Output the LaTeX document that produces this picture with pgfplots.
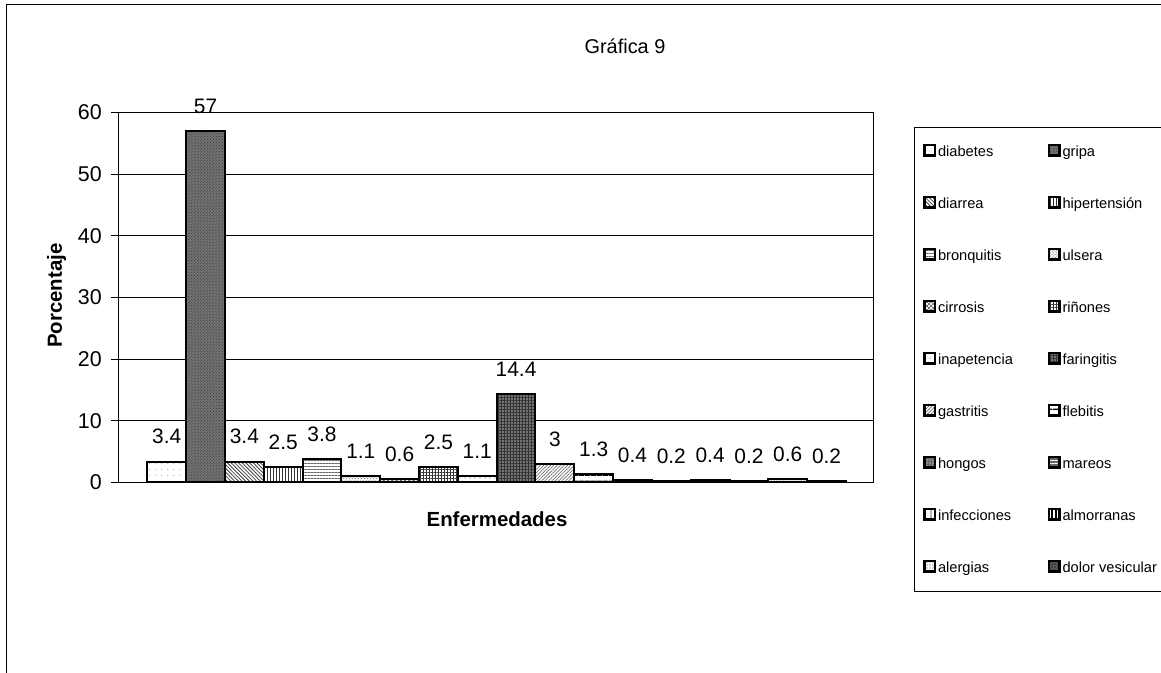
\documentclass[border=0pt]{standalone}
\usepackage{fontspec}
\setmainfont{Liberation Sans}
\usepackage{pgfplots}
\pgfplotsset{compat=1.18}
\usetikzlibrary{patterns,patterns.meta}
\pgfplotsset{/pgf/number format/assume math mode=true}
\begin{document}
\begin{tikzpicture}[x=1bp,y=1bp]
\useasboundingbox (0,0) rectangle (1161,673);
\draw[line width=1bp] (6,-10) -- (6,668) -- (1170,668);
\node[font=\fontsize{20}{24}\selectfont, anchor=base] at (625,619.4) {Gráfica 9};
\begin{axis}[
  at={(118bp,190.5bp)}, anchor=south west,
  scale only axis, width=755bp, height=370bp,
  ymin=0, ymax=60, ytick={0,10,...,60},
  xmin=-0.255, xmax=19.196,
  xtick=\empty,
  ymajorgrids, grid style={black, line width=0.8bp},
  axis line style={black, line width=0.8bp},
  tick style={black, line width=0.8bp},
  tick align=outside, major tick length=7bp,
  ytick pos=left,
  tick label style={font=\fontsize{21.5}{25}\selectfont},
  yticklabel style={inner xsep=0pt, xshift=-9bp},
  ybar, bar width=1, bar shift=0pt,
  nodes near coords,
  every node near coord/.append style={font=\fontsize{21}{25}\selectfont, inner sep=0pt, yshift=16.5bp, anchor=south},
  ylabel={Porcentaje},
  ylabel style={font=\bfseries\fontsize{20.5}{24}\selectfont, at={(axis description cs:-0.0812,0.505)}, anchor=center},
  xlabel={Enfermedades},
  xlabel style={font=\bfseries\fontsize{20.5}{24}\selectfont, at={(axis description cs:0.502,-0.1195)}, anchor=base},
  legend columns=2,
  legend cell align=left,
  legend style={at={(axis description cs:1.0543,0.9608)}, anchor=north west, draw=black, line width=0.8bp,
    inner xsep=9bp, inner ysep=16.5bp, font=\fontsize{14.7}{17}\selectfont, row sep=36.6bp,
    nodes={inner sep=0pt, text height=11bp, text depth=3bp},
    /tikz/every even column/.append style={column sep=35bp},
    /tikz/every odd column/.append style={column sep=2bp}},
  every axis plot/.append style={draw=black, line width=2bp,
    legend image code/.code={\draw[##1, line width=2.4bp] (0.6bp,-3.2bp) rectangle (10.8bp,7.2bp);}},
]
% 1 diabetes
\addplot[fill=white, postaction={pattern={Dots[distance=6bp,radius=0.5bp]}, pattern color=gray}] coordinates {(1,3.4)};
\addlegendentry{diabetes}
% 2 gripa
\addplot[fill=black!55, postaction={pattern=crosshatch dots, pattern color=black!80}] coordinates {(2,57)};
\addlegendentry{gripa}
% 3 diarrea
\addplot[fill=white, postaction={pattern={Lines[angle=-45,distance=2.6bp,line width=0.8bp]}, pattern color=black!75}] coordinates {(3,3.4)};
\addlegendentry{diarrea}
% 4 hipertension
\addplot[fill=white, postaction={pattern={Lines[angle=90,distance=3bp,line width=1bp]}, pattern color=black!80}] coordinates {(4,2.5)};
\addlegendentry{hipertensión}
% 5 bronquitis
\addplot[fill=white, postaction={pattern={Lines[angle=0,distance=3bp,line width=0.7bp]}, pattern color=black!60}] coordinates {(5,3.8)};
\addlegendentry{bronquitis}
% 6 ulsera
\addplot[fill=white, postaction={pattern=crosshatch dots, pattern color=black!70}] coordinates {(6,1.1)};
\addlegendentry{ulsera}
% 7 cirrosis
\addplot[fill=white, postaction={pattern={Hatch[angle=45,distance=3bp,line width=0.6bp]}, pattern color=black!70}] coordinates {(7,0.6)};
\addlegendentry{cirrosis}
% 8 riñones
\addplot[fill=white, postaction={pattern={Hatch[angle=0,distance=3bp,line width=0.8bp]}, pattern color=black!80}] coordinates {(8,2.5)};
\addlegendentry{riñones}
% 9 inapetencia
\addplot[fill=white, postaction={pattern={Dots[distance=5bp,radius=0.6bp]}, pattern color=black!60}] coordinates {(9,1.1)};
\addlegendentry{inapetencia}
% 10 faringitis
\addplot[fill=black!55, postaction={pattern={Hatch[angle=0,distance=3bp,line width=0.8bp]}, pattern color=black!80}] coordinates {(10,14.4)};
\addlegendentry{faringitis}
% 11 gastritis
\addplot[fill=white, postaction={pattern={Lines[angle=45,distance=2.4bp,line width=0.7bp]}, pattern color=black!55}] coordinates {(11,3)};
\addlegendentry{gastritis}
% 12 flebitis
\addplot[fill=white, postaction={pattern={Lines[angle=0,distance=6bp,line width=1.2bp]}, pattern color=black}] coordinates {(12,1.3)};
\addlegendentry{flebitis}
% 13 hongos
\addplot[fill=black!60, postaction={pattern={Dots[distance=3bp,radius=0.6bp]}, pattern color=white}] coordinates {(13,0.4)};
\addlegendentry{hongos}
% 14 mareos
\addplot[fill=black!60, postaction={pattern={Lines[angle=0,distance=3bp,line width=0.8bp]}, pattern color=white}] coordinates {(14,0.2)};
\addlegendentry{mareos}
% 15 infecciones
\addplot[fill=white, postaction={pattern={Lines[angle=90,distance=6bp,line width=1bp]}, pattern color=black}] coordinates {(15,0.4)};
\addlegendentry{infecciones}
% 16 almorranas
\addplot[fill=white, postaction={pattern={Lines[angle=90,distance=4bp,line width=1.2bp]}, pattern color=black}] coordinates {(16,0.2)};
\addlegendentry{almorranas}
% 17 alergias
\addplot[fill=white, postaction={pattern={Dots[distance=3bp,radius=0.6bp]}, pattern color=black!70}] coordinates {(17,0.6)};
\addlegendentry{alergias}
% 18 dolor vesicular
\addplot[fill=black!75, postaction={pattern=crosshatch dots, pattern color=black!40}] coordinates {(18,0.2)};
\addlegendentry{dolor vesicular}
\end{axis}
\end{tikzpicture}
\end{document}
